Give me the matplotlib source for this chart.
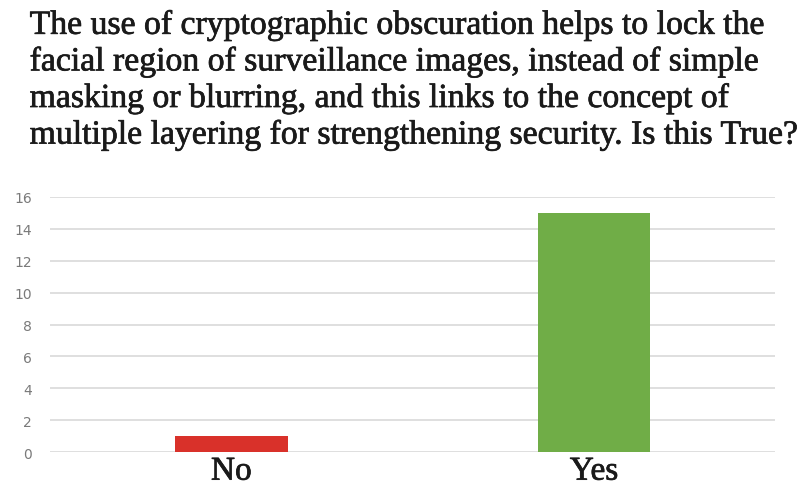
import matplotlib
matplotlib.use('Agg')
import matplotlib.pyplot as plt
import matplotlib.patheffects as pe

categories = ['No', 'Yes']
counts = [1, 15]
bar_colors = ['#d9312a', '#70ad47']
yticks = [0, 2, 4, 6, 8, 10, 12, 14, 16]
title_lines = [
    'The use of cryptographic obscuration helps to lock the',
    'facial region of surveillance images, instead of simple',
    'masking or blurring, and this links to the concept of',
    'multiple layering for strengthening security. Is this True?',
]

# slight stroke to mimic the heavy look of the scanned original
thick = [pe.withStroke(linewidth=0.5, foreground='#1a1a1a')]

fig = plt.figure(figsize=(8.01, 4.89), dpi=100)
ax = fig.add_axes([0.0624, 0.0736, 0.9056, 0.5215])

ax.bar(range(len(categories)), counts, width=0.31, color=bar_colors, zorder=3)
ax.set_xlim(-0.5, 1.5)
ax.set_ylim(0, 16)
ax.set_yticks(yticks)
ax.set_yticklabels([str(t) for t in yticks], color='#7a7a7a', fontsize=10)
ax.set_xticks(range(len(categories)))
ax.set_xticklabels(categories, fontsize=24, family='Liberation Serif',
                   color='#1a1a1a', path_effects=thick)
ax.tick_params(axis='both', length=0)
ax.tick_params(axis='y', pad=13)
ax.tick_params(axis='x', pad=3)
ax.grid(axis='y', color='#d9d9d9', linewidth=1.2, zorder=0)
for s in ax.spines.values():
    s.set_visible(False)

fig.text(0.037, 0.978, '\n'.join(title_lines), ha='left', va='top',
         fontsize=24.3, family='Liberation Serif', linespacing=1.23,
         color='#1a1a1a', path_effects=thick)

fig.savefig('out.png', dpi=100)
